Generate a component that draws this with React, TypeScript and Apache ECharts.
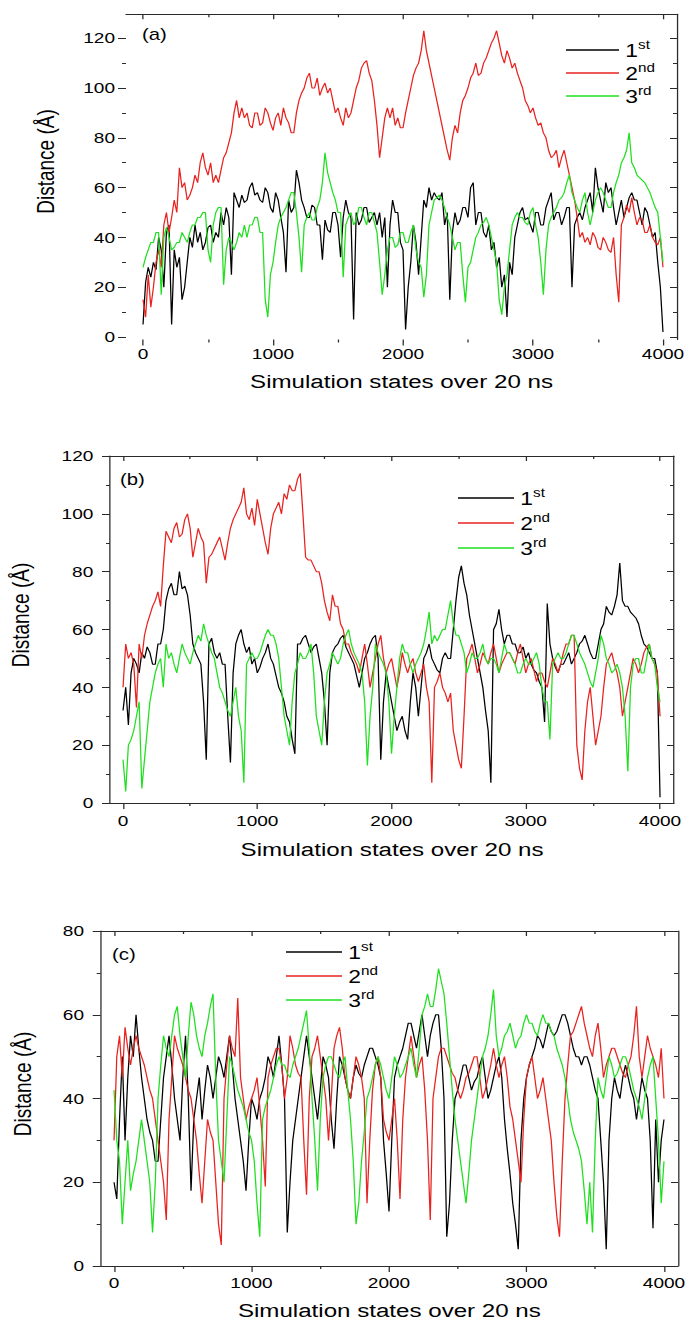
import React, { useEffect, useRef } from "react";
import * as echarts from "echarts";

// The source figure is stretched horizontally; the chart is drawn in a narrower box and stretched back.
const SX = 1.27;
const PAGE_W = 689;
const PAGE_H = 1322;

const SERIES_NAMES = ["1st", "2nd", "3rd"];
const COLORS = ["#000000", "#e8231f", "#1fe01f"];

const X_LABELS = [0, 1000, 2000, 3000, 4000];
const X_MINOR = [500, 1500, 2500, 3500];
const Y_LABELS_AB = [0, 20, 40, 60, 80, 100, 120];
const Y_MINOR_AB = [10, 30, 50, 70, 90, 110];
const Y_LABELS_C = [0, 20, 40, 60, 80];
const Y_MINOR_C = [10, 30, 50, 70];

// simulation states at which the traces were read (every 20 states)
const STATES = Array.from({ length: 201 }, (_, i) => i * 20);

// ---- panel (a) ----  (one row = 200 states)
const A_1ST = [
  5, 22, 28, 24, 30, 27, 40, 35, 20, 42,
  45, 5, 35, 28, 32, 15, 20, 30, 40, 36,
  45, 38, 42, 35, 38, 44, 45, 38, 42, 40,
  50, 45, 52, 48, 25, 58, 55, 52, 57, 54,
  55, 60, 62, 57, 58, 55, 54, 60, 58, 52,
  50, 58, 55, 48, 42, 26, 55, 50, 52, 67,
  62, 55, 52, 48, 48, 53, 52, 45, 45, 31,
  47, 43, 42, 50, 50, 45, 32, 48, 55, 50,
  48, 7, 50, 45, 47, 52, 52, 46, 48, 50,
  45, 50, 40, 48, 20, 45, 55, 50, 50, 38,
  35, 3, 20, 30, 45, 38, 25, 40, 55, 52,
  60, 55, 58, 56, 55, 58, 45, 50, 15, 42,
  50, 45, 47, 52, 52, 48, 60, 62, 45, 50,
  50, 42, 40, 45, 35, 38, 28, 32, 20, 25,
  8, 30, 25, 40, 45, 50, 52, 47, 48, 45,
  42, 50, 50, 45, 45, 52, 55, 58, 47, 50,
  50, 45, 48, 52, 52, 20, 45, 48, 50, 47,
  52, 55, 58, 50, 68, 60, 55, 50, 62, 58,
  60, 52, 45, 50, 55, 48, 52, 56, 58, 55,
  55, 50, 45, 52, 50, 45, 40, 42, 30, 20,
  2,
];
const A_2ND = [
  15, 8, 25, 12, 20, 30, 35, 28, 45, 50,
  42, 48, 55, 50, 68, 60, 62, 55, 57, 60,
  65, 62, 70, 74, 68, 65, 70, 62, 65, 62,
  67, 72, 74, 78, 82, 90, 95, 88, 92, 88,
  90, 85, 84, 90, 90, 85, 86, 92, 90, 86,
  83, 88, 90, 85, 92, 88, 86, 82, 82, 90,
  95, 98, 100, 104, 106, 100, 100, 104, 97, 100,
  102, 98, 100, 95, 90, 92, 88, 85, 92, 88,
  90, 95, 100, 103, 108, 110, 111, 106, 103, 95,
  85, 72, 80, 88, 92, 88, 92, 85, 88, 84,
  84, 90, 95, 100, 105, 108, 110, 115, 123, 115,
  110, 105, 100, 95, 90, 85, 80, 75, 71, 80,
  85, 82, 90, 95, 97, 100, 104, 106, 110, 105,
  106, 110, 112, 115, 118, 120, 123, 118, 113, 110,
  115, 112, 108, 110, 106, 103, 100, 95, 93, 90,
  92, 88, 85, 86, 82, 80, 75, 72, 73, 75,
  68, 72, 75, 70, 65, 60, 55, 48, 40, 42,
  38, 40, 37, 42, 40, 36, 35, 40, 38, 35,
  34, 40, 25, 14, 45, 48, 53, 50, 56, 50,
  45, 48, 47, 42, 42, 45, 40, 38, 37, 40,
  28,
];
const A_3RD = [
  28, 32, 35, 38, 38, 42, 42, 17, 40, 44,
  40, 35, 36, 38, 38, 42, 40, 38, 42, 45,
  45, 48, 48, 50, 50, 35, 30, 45, 50, 52,
  52, 21, 35, 40, 38, 35, 38, 42, 40, 45,
  40, 45, 45, 48, 48, 42, 42, 15, 8, 25,
  30, 38, 45, 48, 50, 52, 55, 58, 58, 50,
  40, 26, 45, 48, 50, 47, 47, 52, 55, 62,
  74, 66, 62, 58, 55, 50, 50, 24, 45, 48,
  50, 45, 47, 52, 52, 48, 45, 50, 50, 46,
  42, 30, 17, 25, 35, 40, 40, 36, 37, 42,
  42, 38, 38, 42, 45, 35, 30, 28, 16, 25,
  45, 50, 55, 56, 57, 55, 52, 48, 45, 40,
  35, 38, 38, 25, 14, 28, 30, 35, 40, 42,
  45, 46, 48, 45, 40, 35, 30, 15, 9, 20,
  25, 35, 45, 48, 50, 48, 48, 46, 45, 50,
  52, 45, 40, 30, 17, 35, 45, 48, 50, 52,
  55, 56, 58, 62, 65, 58, 55, 52, 50, 55,
  58, 50, 45, 50, 55, 58, 60, 58, 55, 52,
  52, 58, 62, 65, 70, 72, 75, 82, 70, 68,
  65, 64, 63, 62, 60, 58, 55, 52, 50, 40,
  30,
];

// ---- panel (b) ----
const B_1ST = [
  32, 40, 27, 45, 50, 48, 45, 52, 50, 54,
  52, 48, 48, 55, 55, 60, 70, 74, 76, 72,
  72, 80, 74, 75, 72, 65, 55, 52, 50, 48,
  35, 15, 55, 57, 52, 50, 52, 48, 48, 30,
  14, 45, 55, 58, 60, 55, 52, 54, 48, 50,
  45, 47, 50, 52, 55, 50, 48, 44, 40, 38,
  35, 30, 28, 22, 17, 55, 55, 57, 58, 55,
  52, 54, 55, 50, 45, 35, 20, 45, 52, 54,
  55, 57, 58, 54, 52, 50, 48, 44, 40, 45,
  50, 52, 55, 57, 58, 50, 15, 35, 45, 40,
  35, 30, 25, 28, 30, 25, 22, 35, 45, 40,
  30, 40, 50, 52, 55, 50, 48, 46, 45, 50,
  52, 50, 50, 60, 70, 78, 82, 76, 72, 65,
  60, 55, 50, 45, 40, 32, 25, 7, 60, 62,
  67, 60, 55, 58, 58, 55, 55, 52, 52, 54,
  50, 52, 48, 46, 45, 42, 40, 28, 69, 55,
  50, 47, 45, 48, 48, 50, 52, 48, 50, 52,
  55, 56, 58, 55, 52, 50, 50, 55, 60, 62,
  68, 66, 65, 68, 72, 83, 70, 68, 68, 66,
  65, 64, 62, 58, 55, 54, 52, 50, 50, 45,
  2,
];
const B_2ND = [
  40, 55, 50, 52, 48, 33, 55, 50, 58, 62,
  65, 68, 70, 73, 68, 82, 94, 92, 90, 95,
  97, 92, 93, 98, 100, 95, 85, 90, 95, 92,
  90, 76, 85, 86, 88, 90, 92, 88, 84, 90,
  95, 98, 100, 102, 104, 109, 100, 98, 102, 96,
  105, 100, 95, 90, 86, 95, 100, 102, 104, 100,
  107, 105, 110, 108, 108, 112, 114, 100, 85, 84,
  84, 82, 80, 80, 76, 70, 66, 63, 72, 68,
  68, 62, 60, 55, 55, 52, 50, 48, 45, 50,
  55, 48, 40, 45, 50, 55, 58, 50, 45, 48,
  50, 45, 40, 45, 52, 48, 45, 48, 50, 45,
  42, 45, 48, 40, 35, 7, 40, 42, 45, 40,
  38, 35, 38, 25, 20, 15, 12, 30, 50, 52,
  55, 50, 45, 48, 52, 50, 48, 52, 55, 50,
  45, 48, 50, 52, 52, 50, 48, 52, 55, 50,
  45, 48, 50, 46, 42, 45, 45, 42, 40, 45,
  50, 48, 45, 48, 52, 55, 55, 58, 58, 20,
  12, 8, 25, 35, 40, 30, 20, 25, 30, 40,
  48, 50, 52, 48, 45, 40, 30, 35, 40, 45,
  50, 48, 45, 48, 52, 54, 55, 50, 48, 45,
  30,
];
const B_3RD = [
  15, 4, 20, 22, 25, 30, 35, 5, 15, 25,
  35, 40, 45, 48, 50, 40, 55, 50, 52, 48,
  45, 50, 55, 52, 50, 48, 52, 55, 58, 56,
  62, 58, 55, 52, 50, 45, 40, 38, 35, 32,
  30, 35, 40, 30, 25, 7, 48, 50, 52, 50,
  50, 52, 55, 58, 60, 58, 58, 55, 50, 40,
  30, 25, 20, 35, 45, 48, 52, 50, 50, 52,
  55, 45, 30, 25, 20, 35, 45, 48, 52, 50,
  48, 50, 55, 58, 60, 55, 52, 50, 48, 45,
  35, 13, 30, 40, 55, 52, 50, 48, 45, 35,
  17, 30, 40, 50, 55, 52, 52, 48, 45, 48,
  50, 52, 55, 60, 66, 55, 58, 56, 58, 60,
  60, 65, 70, 62, 58, 58, 55, 52, 45, 48,
  52, 50, 50, 52, 55, 50, 48, 50, 50, 48,
  45, 50, 55, 52, 52, 50, 48, 45, 45, 48,
  50, 48, 48, 50, 52, 48, 40, 35, 35, 22,
  48, 50, 52, 50, 50, 52, 55, 58, 58, 55,
  52, 50, 48, 45, 42, 40, 45, 50, 58, 55,
  50, 48, 45, 46, 48, 45, 40, 30, 11, 40,
  48, 50, 50, 45, 45, 50, 55, 50, 48, 40,
  35,
];

// ---- panel (c) ----
const C_1ST = [
  20, 16, 35, 50, 30, 45, 55, 50, 60, 52,
  45, 40, 35, 32, 30, 25, 25, 35, 45, 50,
  55, 48, 40, 35, 30, 45, 55, 40, 18, 35,
  40, 45, 35, 42, 48, 45, 40, 45, 50, 48,
  45, 50, 55, 48, 40, 35, 30, 25, 18, 30,
  40, 38, 35, 40, 42, 45, 50, 48, 45, 50,
  55, 48, 40, 8, 20, 30, 35, 40, 45, 50,
  55, 50, 45, 40, 35, 42, 50, 48, 45, 35,
  28, 40, 50, 48, 45, 42, 40, 45, 48, 46,
  45, 48, 50, 52, 52, 50, 48, 45, 30, 22,
  13, 30, 45, 48, 50, 52, 55, 58, 58, 55,
  52, 56, 60, 55, 50, 55, 58, 60, 60, 52,
  40, 7, 15, 30, 40, 42, 45, 48, 48, 45,
  42, 44, 45, 48, 50, 45, 40, 42, 45, 48,
  50, 45, 35, 28, 22, 15, 10, 4, 30, 40,
  45, 48, 50, 52, 55, 54, 52, 55, 58, 56,
  55, 56, 58, 60, 60, 58, 55, 52, 50, 50,
  48, 50, 50, 48, 45, 42, 40, 30, 20, 4,
  30, 40, 45, 42, 40, 45, 48, 45, 42, 40,
  35, 40, 45, 42, 40, 30, 9, 35, 20, 30,
  35,
];
const C_2ND = [
  30, 50, 55, 45, 57, 52, 48, 52, 55, 52,
  50, 48, 45, 42, 40, 35, 30, 25, 20, 11,
  35, 45, 55, 52, 50, 48, 45, 42, 40, 35,
  30, 22, 15, 25, 35, 32, 30, 20, 10, 5,
  40, 48, 55, 52, 50, 64, 45, 40, 35, 38,
  40, 42, 45, 38, 30, 19, 45, 48, 50, 52,
  52, 48, 40, 45, 55, 52, 48, 46, 45, 30,
  17, 40, 50, 52, 55, 50, 45, 40, 30, 40,
  52, 55, 57, 52, 45, 42, 40, 45, 50, 48,
  45, 40, 15, 30, 42, 48, 50, 45, 35, 32,
  30, 35, 40, 30, 16, 35, 45, 50, 55, 50,
  45, 48, 50, 42, 30, 11, 40, 45, 50, 52,
  52, 50, 48, 46, 45, 42, 40, 42, 45, 46,
  48, 50, 50, 45, 40, 42, 45, 48, 52, 48,
  45, 48, 50, 45, 38, 35, 30, 25, 20, 35,
  45, 48, 50, 45, 40, 42, 45, 40, 35, 30,
  20, 12, 7, 25, 40, 48, 55, 56, 58, 60,
  62, 58, 55, 52, 50, 55, 58, 52, 45, 48,
  50, 52, 52, 50, 48, 46, 45, 48, 50, 55,
  62, 50, 45, 50, 55, 52, 50, 48, 45, 52,
  40,
];
const C_3RD = [
  42, 30, 25, 10, 20, 30, 18, 22, 25, 30,
  35, 30, 25, 20, 8, 20, 40, 48, 55, 52,
  50, 55, 60, 62, 55, 50, 45, 55, 63, 60,
  55, 52, 50, 55, 58, 62, 65, 45, 30, 25,
  20, 35, 50, 48, 45, 42, 40, 38, 35, 32,
  30, 25, 15, 7, 35, 38, 40, 42, 45, 48,
  50, 48, 48, 46, 45, 48, 50, 52, 55, 58,
  61, 52, 40, 30, 18, 35, 45, 48, 50, 50,
  48, 46, 45, 48, 50, 42, 35, 25, 10, 15,
  25, 32, 40, 42, 45, 48, 50, 48, 45, 42,
  40, 45, 50, 48, 45, 46, 48, 50, 52, 48,
  45, 52, 60, 62, 65, 62, 62, 66, 71, 68,
  65, 58, 50, 42, 35, 30, 25, 20, 15, 22,
  30, 35, 40, 45, 50, 52, 55, 60, 66, 55,
  50, 52, 55, 56, 58, 55, 52, 54, 55, 58,
  60, 58, 58, 56, 55, 58, 60, 58, 58, 56,
  55, 52, 50, 48, 45, 40, 35, 32, 30, 28,
  25, 18, 10, 20, 8, 30, 45, 42, 40, 45,
  50, 48, 45, 46, 48, 50, 50, 48, 45, 42,
  40, 38, 35, 40, 45, 48, 50, 40, 30, 15,
  25,
];

const FONT = "'Liberation Sans', Arial, sans-serif";
const AXIS_COLOR = "#2a2a2a";

type Panel = {
  tag: string;
  series: number[][];
  left: number; right: number; top: number; bottom: number;
  xMin: number; xMax: number; yMin: number; yMax: number;
  yLabels: number[]; yMinor: number[];
  frameLB: boolean;
  yLabelMargin: number; xLabelMargin: number; xNameGap: number;
  tagX: number; tagY: number;
  yTitleX: number; yTitleY: number;
  legendX: number; legendTop: number; legendW: number; legendGap: number;
};

const PANELS: Panel[] = [
  {
    tag: "(a)", series: [A_1ST, A_2ND, A_3RD],
    left: 126, right: 677, top: 14.3, bottom: 339.5,
    xMin: -131, xMax: 4108, yMin: -1, yMax: 129.6,
    yLabels: Y_LABELS_AB, yMinor: Y_MINOR_AB, frameLB: false,
    yLabelMargin: 11, xLabelMargin: 7, xNameGap: 32,
    tagX: 142, tagY: 34.5, yTitleX: 46, yTitleY: 161.5,
    legendX: 566, legendTop: 39, legendW: 53, legendGap: 3,
  },
  {
    tag: "(b)", series: [B_1ST, B_2ND, B_3RD],
    left: 110, right: 674, top: 456, bottom: 803,
    xMin: -97, xMax: 4104, yMin: 0, yMax: 120,
    yLabels: Y_LABELS_AB, yMinor: Y_MINOR_AB, frameLB: true,
    yLabelMargin: 16.7, xLabelMargin: 10.5, xNameGap: 37,
    tagX: 120, tagY: 479.5, yTitleX: 21, yTitleY: 615,
    legendX: 458, legendTop: 487, legendW: 56, legendGap: 5,
  },
  {
    tag: "(c)", series: [C_1ST, C_2ND, C_3RD],
    left: 100.7, right: 678, top: 931, bottom: 1266,
    xMin: -97, xMax: 4102, yMin: 0, yMax: 80,
    yLabels: Y_LABELS_C, yMinor: Y_MINOR_C, frameLB: true,
    yLabelMargin: 16.7, xLabelMargin: 9.5, xNameGap: 34.5,
    tagX: 112, tagY: 954.5, yTitleX: 23, yTitleY: 1084,
    legendX: 286, legendTop: 941, legendW: 56, legendGap: 4,
  },
];

const plain = (v: number) => String(v);

function buildOption() {
  const grid: any[] = [];
  const xAxis: any[] = [];
  const yAxis: any[] = [];
  const series: any[] = [];
  const legend: any[] = [];
  const graphic: any[] = [];
  const line = { color: AXIS_COLOR, width: 1 };

  PANELS.forEach((p, i) => {
    grid.push({
      left: p.left / SX,
      top: p.top,
      width: (p.right - p.left) / SX,
      height: p.bottom - p.top,
      containLabel: false,
    });
    const xBase = { type: "value", gridIndex: i, min: p.xMin, max: p.xMax, splitLine: { show: false } };
    const yBase = { type: "value", gridIndex: i, min: p.yMin, max: p.yMax, splitLine: { show: false } };
    const xi = xAxis.length;
    const yi = yAxis.length;
    xAxis.push({
      ...xBase, position: "bottom",
      axisLine: { show: p.frameLB, onZero: false, lineStyle: line },
      axisTick: { show: true, inside: false, length: 6, customValues: X_LABELS, lineStyle: line },
      axisLabel: { customValues: X_LABELS, formatter: plain, margin: p.xLabelMargin, fontSize: 15, color: "#000", fontFamily: FONT },
      name: "Simulation states over 20 ns", nameLocation: "middle", nameGap: p.xNameGap,
      nameTextStyle: { fontSize: 19, color: "#000", fontFamily: FONT },
    });
    xAxis.push({
      ...xBase, position: "bottom",
      axisLine: { show: false, onZero: false },
      axisTick: { show: true, inside: false, length: 3, customValues: X_MINOR, lineStyle: line },
      axisLabel: { show: false },
    });
    xAxis.push({
      ...xBase, position: "top",
      axisLine: { show: true, onZero: false, lineStyle: line },
      axisTick: { show: true, inside: true, length: 5, customValues: X_LABELS, lineStyle: line },
      axisLabel: { show: false },
    });
    xAxis.push({
      ...xBase, position: "top",
      axisLine: { show: false, onZero: false },
      axisTick: { show: true, inside: true, length: 3, customValues: X_MINOR, lineStyle: line },
      axisLabel: { show: false },
    });
    yAxis.push({
      ...yBase, position: "left",
      axisLine: { show: p.frameLB, onZero: false, lineStyle: line },
      axisTick: { show: true, inside: false, length: 8 / SX, customValues: p.yLabels, lineStyle: line },
      axisLabel: { customValues: p.yLabels, formatter: plain, margin: p.yLabelMargin / SX, fontSize: 15, color: "#000", fontFamily: FONT },
    });
    yAxis.push({
      ...yBase, position: "left",
      axisLine: { show: false, onZero: false },
      axisTick: { show: true, inside: false, length: 4 / SX, customValues: p.yMinor, lineStyle: line },
      axisLabel: { show: false },
    });
    yAxis.push({
      ...yBase, position: "right",
      axisLine: { show: true, onZero: false, lineStyle: line },
      axisTick: { show: true, inside: true, length: 7 / SX, customValues: p.yLabels, lineStyle: line },
      axisLabel: { show: false },
    });
    yAxis.push({
      ...yBase, position: "right",
      axisLine: { show: false, onZero: false },
      axisTick: { show: true, inside: true, length: 4 / SX, customValues: p.yMinor, lineStyle: line },
      axisLabel: { show: false },
    });

    p.series.forEach((ys, k) => {
      series.push({
        type: "line",
        name: SERIES_NAMES[k],
        xAxisIndex: xi,
        yAxisIndex: yi,
        data: STATES.map((s, j) => [s, ys[j]]),
        symbol: "none",
        showSymbol: false,
        lineStyle: { color: COLORS[k], width: 1 },
        itemStyle: { color: COLORS[k] },
        clip: true,
        z: 2 + k,
      });
    });

    legend.push({
      orient: "vertical",
      left: p.legendX / SX,
      top: p.legendTop,
      itemWidth: p.legendW / SX,
      itemHeight: 1.6,
      icon: "rect",
      itemGap: p.legendGap,
      padding: 0,
      selectedMode: false,
      data: SERIES_NAMES,
      formatter: (name: string) => `{n|${name.charAt(0)}}{s|${name.slice(1)}}`,
      textStyle: {
        color: "#000",
        fontFamily: FONT,
        rich: {
          n: { fontSize: 18, lineHeight: 22, fontFamily: FONT, color: "#000" },
          s: { fontSize: 12, lineHeight: 7, verticalAlign: "top", fontFamily: FONT, color: "#000" },
        },
      },
    });

    graphic.push({
      type: "text",
      x: p.tagX / SX,
      y: p.tagY,
      style: { text: p.tag, fontSize: 16, fontFamily: FONT, fill: "#000", align: "left", verticalAlign: "middle" },
    });
    graphic.push({
      type: "text",
      x: p.yTitleX / SX,
      y: p.yTitleY,
      rotation: Math.PI / 2,
      style: { text: "Distance (Å)", fontSize: 19, fontFamily: FONT, fill: "#000", align: "center", verticalAlign: "middle" },
    });
  });

  return {
    animation: false,
    backgroundColor: "#ffffff",
    grid,
    xAxis,
    yAxis,
    series,
    legend,
    graphic,
  };
}

export default function App() {
  const ref = useRef<HTMLDivElement>(null);
  useEffect(() => {
    if (!ref.current) return;
    const chart = echarts.init(ref.current, null, { renderer: "svg" });
    chart.setOption(buildOption() as any);
    return () => chart.dispose();
  }, []);
  return (
    <div style={{ position: "absolute", left: 0, top: 0, width: PAGE_W, height: PAGE_H, overflow: "hidden", background: "#fff" }}>
      <div
        ref={ref}
        style={{ width: PAGE_W / SX, height: PAGE_H, transform: `scaleX(${SX})`, transformOrigin: "0 0" }}
      />
    </div>
  );
}
